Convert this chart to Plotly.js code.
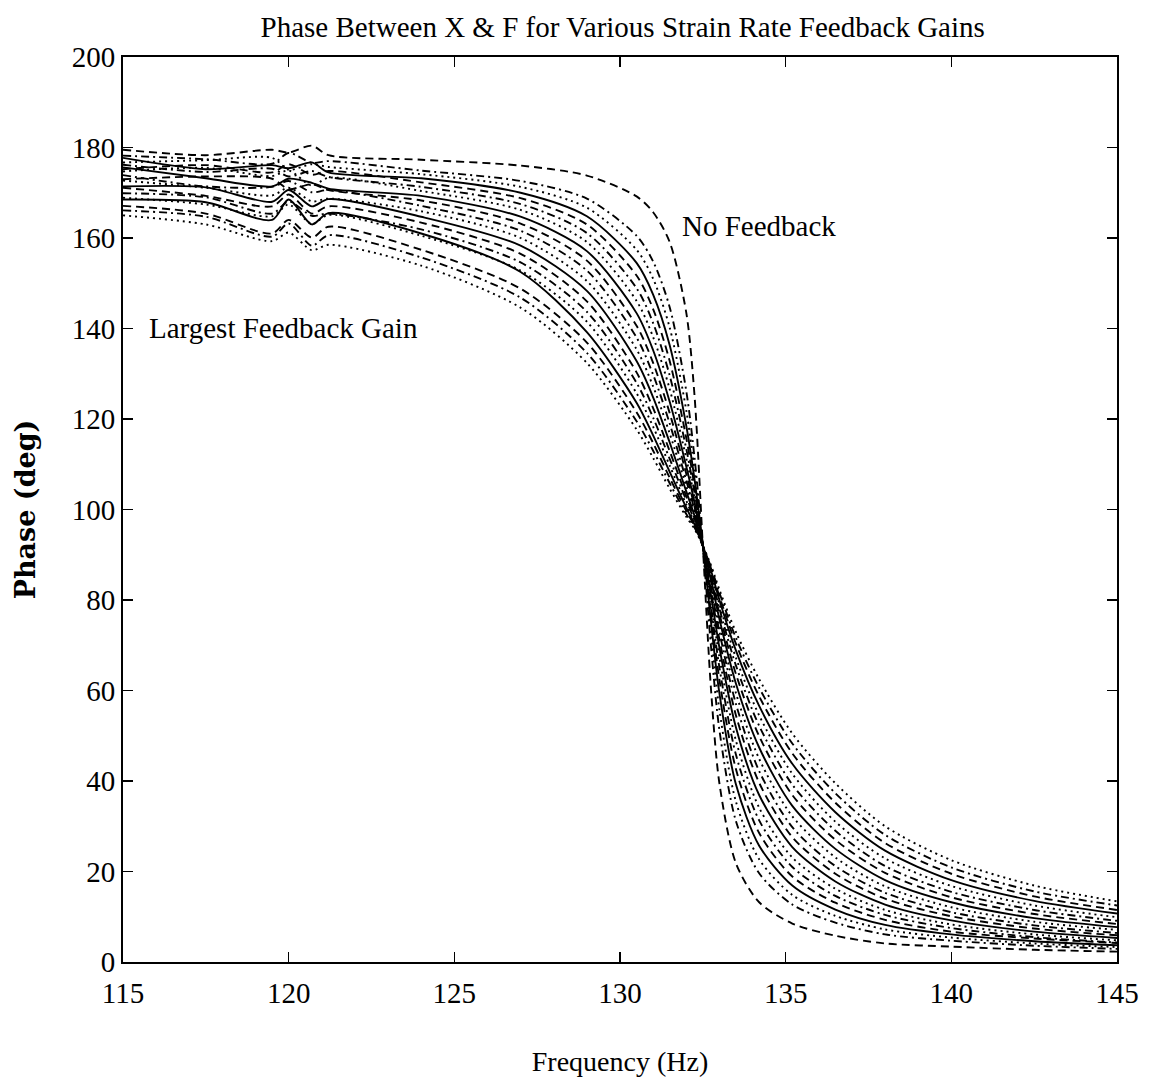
<!DOCTYPE html>
<html>
<head>
<meta charset="utf-8">
<script src="https://cdn.plot.ly/plotly-3.0.1.min.js"></script>
<style>html,body{margin:0;padding:0;background:#fff;}</style>
</head>
<body>
<div id="chart" style="width:1151px;height:1092px;"></div>
<script>
// Frequency samples (Hz)
const freq = [115, 117.5, 119.5, 120, 120.7, 121.2, 124, 127, 129, 130.5, 131, 131.5, 132, 132.25, 132.5, 132.75, 133, 133.5, 134.2, 135.2, 136.5, 138, 140, 142.5, 145];

// Phase (deg) curves, from largest feedback gain (g01) to no feedback (g19)
const g01 = [165.0, 163.0, 159.3, 161.2, 157.3, 158.5, 153.9, 144.6, 132.4, 117.7, 111.4, 104.6, 98.4, 95.7, 92, 87.6, 82.3, 72.9, 62.5, 50.5, 39.5, 30.0, 22.5, 16.9, 13.4];
const g02 = [166.1, 164.7, 160.3, 163.2, 158.3, 160.6, 155.7, 146.8, 134.6, 119.5, 113.0, 105.8, 99.0, 96.0, 92, 87.2, 81.6, 71.6, 60.6, 48.3, 37.3, 28.1, 20.9, 15.6, 12.5];
const g03 = [167.1, 165.4, 161.0, 164.0, 160.1, 162.5, 157.4, 148.8, 136.9, 121.5, 114.7, 107.0, 99.7, 96.4, 92, 86.9, 80.8, 70.3, 58.7, 46.1, 35.2, 26.3, 19.5, 14.5, 11.5];
const g04 = [168.5, 167.9, 164.0, 168.5, 163.0, 165.5, 161.0, 152.5, 139.2, 123.6, 116.4, 108.3, 100.4, 96.7, 92, 86.4, 80.0, 68.8, 56.6, 43.8, 33.1, 24.6, 18.1, 13.5, 10.7];
const g05 = [168.9, 167.4, 164.8, 167.4, 163.1, 165.1, 160.5, 152.8, 141.5, 125.7, 118.3, 109.7, 101.1, 97.1, 92, 86.0, 79.1, 67.2, 54.5, 41.6, 31.0, 22.9, 16.8, 12.5, 9.9];
const g06 = [169.9, 169.0, 165.4, 168.1, 164.9, 165.4, 161.9, 154.6, 143.7, 128.0, 120.3, 111.2, 102.0, 97.5, 92, 85.5, 78.1, 65.5, 52.2, 39.2, 29.0, 21.2, 15.5, 11.5, 9.1];
const g07 = [171.1, 169.3, 167.0, 169.6, 165.4, 167.0, 163.4, 156.5, 146.0, 130.3, 122.4, 112.9, 102.9, 98.0, 92, 84.9, 77.0, 63.6, 49.9, 36.9, 27.0, 19.7, 14.3, 10.6, 8.4];
const g08 = [171.4, 171.2, 168.0, 170.6, 167.0, 168.6, 164.7, 158.3, 148.3, 132.8, 124.8, 114.8, 104.0, 98.6, 92, 84.3, 75.8, 61.5, 47.4, 34.5, 25.0, 18.1, 13.2, 9.7, 7.7];
const g09 = [172.7, 171.1, 169.4, 171.1, 168.1, 168.7, 165.9, 160.0, 150.5, 135.4, 127.2, 116.8, 105.1, 99.2, 92, 83.5, 74.5, 59.4, 44.9, 32.2, 23.1, 16.7, 12.1, 8.9, 7.1];
const g10 = [173.9, 171.4, 171.3, 172.6, 170.1, 170.6, 167.1, 161.6, 152.8, 138.0, 129.8, 119.0, 106.4, 99.9, 92, 82.7, 73.0, 57.0, 42.2, 29.8, 21.2, 15.3, 11.0, 8.1, 6.4];
const g11 = [173.0, 173.6, 173.1, 170.8, 171.9, 170.6, 168.3, 163.2, 155.0, 140.6, 132.4, 121.3, 107.9, 100.6, 92, 81.9, 71.3, 54.5, 39.6, 27.6, 19.5, 14.0, 10.1, 7.4, 5.9];
const g12 = [175.6, 173.2, 171.4, 173.1, 172.2, 170.9, 169.3, 164.7, 157.1, 143.4, 135.2, 123.8, 109.5, 101.5, 92, 80.9, 69.5, 51.8, 36.9, 25.4, 17.8, 12.7, 9.2, 6.7, 5.3];
const g13 = [174.7, 175.5, 173.7, 174.9, 171.6, 173.3, 170.4, 166.2, 159.1, 146.1, 138.1, 126.6, 111.3, 102.5, 92, 79.7, 67.4, 48.9, 34.1, 23.1, 16.2, 11.5, 8.3, 6.1, 4.8];
const g14 = [176.2, 174.6, 175.3, 173.6, 174.8, 173.5, 171.3, 167.5, 161.1, 148.9, 141.2, 129.6, 113.4, 103.6, 92, 78.3, 65.1, 45.8, 31.3, 21.0, 14.6, 10.4, 7.5, 5.5, 4.3];
const g15 = [175.2, 176.1, 174.5, 176.3, 174.0, 174.8, 172.3, 168.8, 163.0, 151.7, 144.3, 132.8, 115.8, 105.0, 92, 76.7, 62.4, 42.6, 28.5, 18.9, 13.1, 9.3, 6.7, 5.2, 4.2];
const g16 = [177.7, 175.2, 176.1, 175.4, 176.7, 174.5, 173.2, 170.0, 164.8, 154.5, 147.5, 136.3, 118.5, 106.6, 92, 74.9, 59.4, 39.2, 25.7, 16.9, 11.6, 8.2, 6.1, 4.6, 3.7];
const g17 = [176.7, 177.2, 177.7, 175.1, 176.3, 175.7, 174.1, 171.3, 166.7, 157.4, 151.0, 140.2, 121.9, 108.6, 92, 72.6, 55.8, 35.4, 22.7, 14.8, 10.2, 7.2, 5.4, 4.1, 3.3];
const g18 = [178.2, 177.4, 176.4, 178.8, 176.6, 177.0, 174.9, 172.6, 168.7, 160.5, 154.8, 144.7, 126.2, 111.4, 92, 69.4, 51.3, 31.1, 19.6, 12.7, 8.7, 6.1, 4.7, 3.6, 2.9];
const g19 = [179.5, 178.3, 179.5, 178.9, 180.4, 178.3, 177.3, 176.0, 173.8, 169.2, 165.7, 159.1, 143.5, 125.1, 92, 59.9, 39.5, 21.8, 13.2, 8.5, 5.8, 4.1, 3.4, 2.7, 2.3];

const curves = [g01, g02, g03, g04, g05, g06, g07, g08, g09, g10, g11, g12, g13, g14, g15, g16, g17, g18, g19];

// line style cycle: dotted, dash-dot, dashed, solid
const dashes = ['2px,4px', '8px,4px,2px,4px', '8px,5px', 'solid'];

const traces = curves.map((y, i) => ({
  x: freq,
  y: y,
  type: 'scatter',
  mode: 'lines',
  line: {color: '#000', width: 1.9, dash: dashes[i % 4], shape: 'spline', smoothing: 0.8},
  hoverinfo: 'skip'
}));

const serif = 'Liberation Serif, Times New Roman, serif';

const layout = {
  width: 1151,
  height: 1092,
  margin: {l: 123, r: 34, t: 57, b: 130},
  paper_bgcolor: '#fff',
  plot_bgcolor: '#fff',
  showlegend: false,
  title: {
    text: 'Phase Between X & F for Various Strain Rate Feedback Gains',
    font: {family: serif, size: 29, color: '#000'},
    x: 0.541, xanchor: 'center', y: 0.975, yanchor: 'middle'
  },
  xaxis: {
    range: [115, 145],
    tickvals: [115, 120, 125, 130, 135, 140, 145],
    ticks: 'inside', ticklen: 10, tickwidth: 1.5, tickcolor: '#000',
    showline: true, linecolor: '#000', linewidth: 2, mirror: 'ticks',
    showgrid: false, zeroline: false,
    ticklabelstandoff: 4,
    tickfont: {family: serif, size: 29, color: '#000'},
    title: {text: 'Frequency (Hz)', font: {family: serif, size: 28, color: '#000'}, standoff: 44}
  },
  yaxis: {
    range: [0, 200],
    tickvals: [0, 20, 40, 60, 80, 100, 120, 140, 160, 180, 200],
    ticks: 'inside', ticklen: 10, tickwidth: 1.5, tickcolor: '#000',
    showline: true, linecolor: '#000', linewidth: 2, mirror: 'ticks',
    showgrid: false, zeroline: false,
    tickfont: {family: serif, size: 29, color: '#000'},
    title: {text: 'Phase (deg)', font: {family: 'DejaVu Serif, serif', size: 27, weight: 'bold', color: '#000'}, standoff: 28}
  },
  annotations: [
    {x: 131.81, y: 162.7, xref: 'x', yref: 'y', text: 'No Feedback', showarrow: false,
     xanchor: 'left', yanchor: 'middle', font: {family: serif, size: 29, color: '#000'}},
    {x: 115.72, y: 140.1, xref: 'x', yref: 'y', text: 'Largest Feedback Gain', showarrow: false,
     xanchor: 'left', yanchor: 'middle', font: {family: serif, size: 29, color: '#000'}}
  ]
};

Plotly.newPlot('chart', traces, layout, {staticPlot: true, displayModeBar: false});
</script>
</body>
</html>
